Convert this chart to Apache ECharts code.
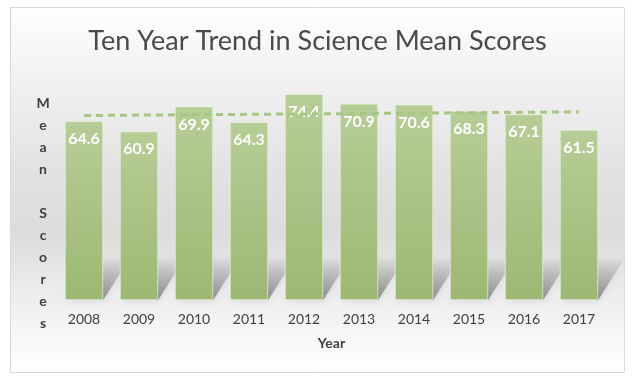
<!DOCTYPE html>
<html>
<head>
<meta charset="utf-8">
<script src="https://cdn.jsdelivr.net/npm/echarts@6/dist/echarts.min.js"></script>
<style>
html,body{margin:0;padding:0;background:#fff;}
#chart{width:635px;height:379px;}
</style>
</head>
<body>
<div id="chart"></div>
<script>
var years = ['2008','2009','2010','2011','2012','2013','2014','2015','2016','2017'];
var meanScores = [64.6, 60.9, 69.9, 64.3, 74.4, 70.9, 70.6, 68.3, 67.1, 61.5];
// dashed trend line end points
var trendLine = [66.6, null, null, null, null, null, null, null, null, 67.9];
var titleText = 'Ten Year Trend in Science Mean Scores';
var yName = 'Mean Scores';
var xName = 'Year';

var chart = echarts.init(document.getElementById('chart'), null, {renderer:'canvas'});
var FONT = 'Lato, "Open Sans", sans-serif';

var option = {
  animation: false,
  graphic: [{
    type: 'rect', z: -10, silent: true,
    shape: {x: 10.5, y: 7.5, width: 614, height: 365},
    style: {
      stroke: '#d9d9d9', lineWidth: 1,
      fill: new echarts.graphic.LinearGradient(0, 0, 0, 1, [
        {offset: 0, color: '#ffffff'},
        {offset: 0.12, color: '#f6f6f6'},
        {offset: 0.45, color: '#e2e2e2'},
        {offset: 0.62, color: '#dcdcdc'},
        {offset: 0.85, color: '#f3f3f3'},
        {offset: 1, color: '#ffffff'}
      ])
    }
  }, {
    type: 'text', z: 10, silent: true,
    x: 43, y: 92,
    style: {
      text: yName.split('').join('\n'),
      font: 'bold 14px ' + FONT, fill: '#404040',
      align: 'center', verticalAlign: 'top', lineHeight: 22
    }
  }],
  title: {
    text: titleText, left: 'center', top: 23,
    textStyle: {fontFamily: FONT, fontSize: 27, fontWeight: 'normal', color: '#4a4a4a'}
  },
  grid: {left: 56.5, right: 28.5, top: 78.4, bottom: 79},
  xAxis: {
    type: 'category', data: years,
    axisLine: {show: false}, axisTick: {show: false},
    axisLabel: {fontFamily: FONT, fontSize: 14, color: '#404040', margin: 12},
    name: xName, nameLocation: 'middle', nameGap: 36,
    nameTextStyle: {fontFamily: FONT, fontSize: 14, fontWeight: 'bold', color: '#404040'}
  },
  yAxis: {
    type: 'value', min: 0, max: 80,
    axisLine: {show: false}, axisTick: {show: false}, axisLabel: {show: false},
    splitLine: {show: false}
  },
  series: [{
    type: 'custom', z: 1, silent: true,
    data: meanScores,
    renderItem: function (params, api) {
      var base = api.coord([api.value(0), 0]);
      var w = api.size([1, 0])[0] * 0.7;
      var xL = base[0] - w / 2, xR = base[0] + w / 2, y0 = base[1];
      var dx = 28, h = 44;
      return {
        type: 'polygon',
        shape: {points: [[xL + 2, y0], [xR, y0], [xR + dx, y0 - h], [xL + dx, y0 - h]]},
        style: {
          fill: new echarts.graphic.LinearGradient(0, 1, 0, 0, [
            {offset: 0, color: 'rgba(60,60,60,0.5)'},
            {offset: 1, color: 'rgba(60,60,60,0)'}
          ]),
          shadowBlur: 8, shadowColor: 'rgba(60,60,60,0.3)'
        }
      };
    }
  }, {
    type: 'bar', z: 2, data: meanScores, barWidth: '70%',
    itemStyle: {
      color: new echarts.graphic.LinearGradient(0, 0, 0, 1, [
        {offset: 0, color: '#b7cd97'},
        {offset: 1, color: '#9db873'}
      ]),
      borderColor: 'rgba(235,243,225,0.7)', borderWidth: 1
    },
    label: {
      show: true, position: 'insideTop', distance: 10,
      fontFamily: FONT, fontSize: 16, fontWeight: 'bold', color: '#ffffff',
      formatter: function (p) { return p.value.toFixed(1); }
    }
  }, {
    type: 'line', z: 5, data: trendLine, connectNulls: true,
    symbol: 'none', silent: true,
    lineStyle: {color: '#a8c585', width: 3, type: [7, 5]}
  }]
};
chart.setOption(option);
</script>
</body>
</html>
